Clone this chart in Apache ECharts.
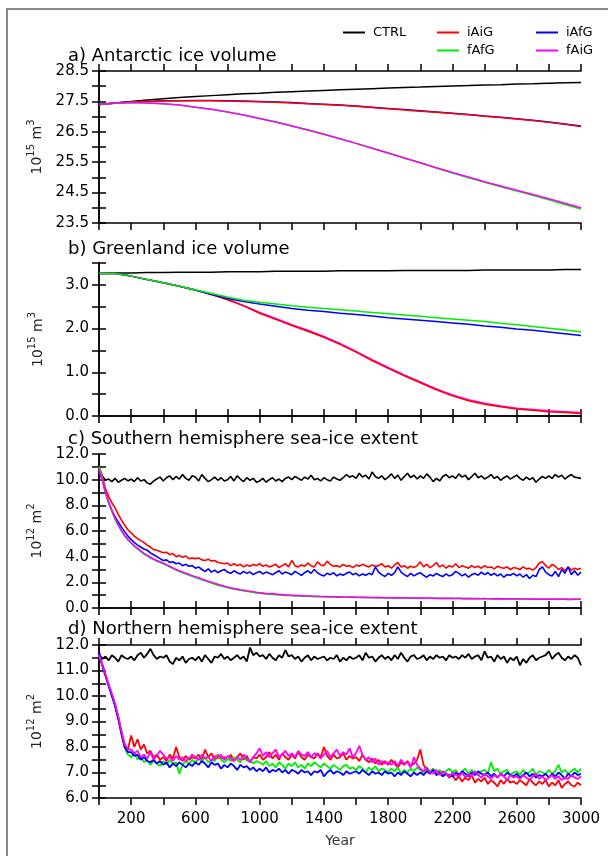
<!DOCTYPE html>
<html>
<head>
<meta charset="utf-8">
<title>ice volume and sea-ice extent</title>
<script src="https://cdn.jsdelivr.net/npm/echarts@6/dist/echarts.min.js"></script>
<style>
html, body { margin: 0; padding: 0; background: #fff; }
#main { width: 608px; height: 856px; }
</style>
</head>
<body>
<div id="main"></div>
<script>
// years
var years100 = [0,100,200,300,400,500,600,700,800,900,1000,1100,1200,1300,1400,1500,
    1600,1700,1800,1900,2000,2100,2200,2300,2400,2500,2600,2700,2800,2900,3000];
var years20 = [0,20,40,60,80,100,120,140,160,180,
    200,220,240,260,280,300,320,340,360,380,
    400,420,440,460,480,500,520,540,560,580,
    600,620,640,660,680,700,720,740,760,780,
    800,820,840,860,880,900,920,940,960,980,
    1000,1020,1040,1060,1080,1100,1120,1140,1160,1180,
    1200,1220,1240,1260,1280,1300,1320,1340,1360,1380,
    1400,1420,1440,1460,1480,1500,1520,1540,1560,1580,
    1600,1620,1640,1660,1680,1700,1720,1740,1760,1780,
    1800,1820,1840,1860,1880,1900,1920,1940,1960,1980,
    2000,2020,2040,2060,2080,2100,2120,2140,2160,2180,
    2200,2220,2240,2260,2280,2300,2320,2340,2360,2380,
    2400,2420,2440,2460,2480,2500,2520,2540,2560,2580,
    2600,2620,2640,2660,2680,2700,2720,2740,2760,2780,
    2800,2820,2840,2860,2880,2900,2920,2940,2960,2980,
    3000];

// a) Antarctic ice volume (10^15 m3)
var antCtrl = [27.40,27.45,27.50,27.55,27.59,27.63,27.66,27.69,27.72,27.75,27.77,27.80,27.82,27.84,27.86,
    27.88,27.90,27.92,27.94,27.96,27.97,27.99,28.01,28.02,28.04,28.05,28.07,28.08,28.10,28.11,28.12];
var antIAiG = [27.40,27.45,27.48,27.50,27.51,27.52,27.52,27.52,27.51,27.50,27.49,27.47,27.45,27.42,27.40,
    27.37,27.34,27.30,27.26,27.22,27.18,27.14,27.10,27.06,27.01,26.97,26.92,26.87,26.81,26.75,26.67];
var antIAfG = [27.40,27.45,27.48,27.50,27.52,27.52,27.53,27.53,27.52,27.51,27.50,27.48,27.46,27.43,27.41,
    27.38,27.35,27.31,27.27,27.23,27.19,27.15,27.11,27.07,27.02,26.98,26.93,26.88,26.82,26.76,26.69];
var antFAfG = [27.40,27.44,27.46,27.45,27.42,27.38,27.31,27.24,27.15,27.05,26.94,26.82,26.69,26.56,26.42,
    26.27,26.12,25.96,25.80,25.64,25.48,25.31,25.14,24.99,24.84,24.69,24.55,24.41,24.26,24.11,23.96];
var antFAiG = [27.40,27.44,27.46,27.45,27.42,27.38,27.31,27.24,27.15,27.05,26.94,26.82,26.69,26.56,26.42,
    26.27,26.12,25.96,25.80,25.64,25.48,25.32,25.16,25.01,24.86,24.72,24.58,24.44,24.30,24.15,24.00];

// b) Greenland ice volume (10^15 m3)
var grlCtrl = [3.26,3.27,3.27,3.28,3.28,3.29,3.29,3.29,3.30,3.30,3.30,3.31,3.31,3.31,3.31,
    3.32,3.32,3.32,3.32,3.33,3.33,3.33,3.33,3.33,3.34,3.34,3.34,3.34,3.34,3.35,3.35];
var grlIAiG = [3.26,3.26,3.20,3.12,3.05,2.97,2.88,2.78,2.66,2.52,2.35,2.21,2.07,1.94,1.80,
    1.64,1.46,1.27,1.09,0.92,0.76,0.60,0.46,0.35,0.27,0.21,0.16,0.13,0.10,0.08,0.06];
var grlIAfG = [3.26,3.26,3.20,3.12,3.05,2.97,2.88,2.78,2.69,2.62,2.56,2.51,2.46,2.42,2.39,
    2.35,2.32,2.29,2.25,2.22,2.19,2.16,2.13,2.10,2.06,2.03,1.99,1.96,1.92,1.88,1.84];
var grlFAfG = [3.26,3.26,3.20,3.12,3.05,2.97,2.89,2.80,2.72,2.65,2.60,2.56,2.52,2.49,2.46,
    2.43,2.40,2.37,2.34,2.31,2.28,2.25,2.22,2.19,2.16,2.12,2.09,2.05,2.01,1.97,1.93];
var grlFAiG = [3.26,3.26,3.20,3.12,3.05,2.97,2.88,2.79,2.67,2.53,2.37,2.23,2.09,1.96,1.82,
    1.66,1.48,1.29,1.11,0.94,0.78,0.62,0.48,0.37,0.29,0.23,0.18,0.15,0.12,0.10,0.08];

// c) Southern hemisphere sea-ice extent (10^12 m2)
var shCtrl = [10.9,10.3,9.95,10.05,9.85,10.1,9.8,9.95,10.1,9.9,
    10.05,9.85,10.15,9.9,10.0,9.75,9.65,9.9,10.05,10.2,
    9.9,10.15,10.3,10.0,10.25,10.05,10.4,10.1,9.95,10.3,
    10.2,9.9,10.4,10.1,9.85,10.0,10.2,9.95,10.15,9.9,
    10.0,10.25,9.9,10.3,10.05,9.85,10.15,9.95,10.1,9.8,
    9.9,10.1,9.8,10.0,10.15,9.9,10.05,9.85,10.1,10.2,
    10.0,10.25,10.1,9.95,10.2,10.05,10.35,10.0,10.1,9.9,
    10.15,10.0,9.9,10.2,10.05,9.95,10.15,10.4,10.2,10.3,
    10.1,10.5,10.2,10.35,10.05,10.6,10.25,10.1,10.3,10.0,
    10.2,10.45,10.1,10.35,9.95,10.25,10.5,10.15,10.35,10.05,
    10.3,10.1,10.45,10.2,9.85,10.1,9.9,10.25,10.4,10.15,
    10.3,10.1,10.45,10.2,10.35,10.0,10.25,10.5,10.15,10.3,
    10.05,10.2,10.4,10.1,10.25,9.95,10.15,10.3,10.05,10.2,
    10.35,10.1,9.95,10.2,10.0,10.15,9.8,10.05,10.25,10.1,
    10.3,10.1,10.4,10.2,10.35,10.05,10.25,10.4,10.2,10.15,
    10.1];
var shIAiG = [11.0,10.3,9.3,8.7,8.2,7.8,7.3,6.85,6.45,6.1,
    5.85,5.6,5.4,5.25,5.1,4.9,4.75,4.55,4.5,4.4,
    4.3,4.35,4.15,4.25,4.0,4.1,3.95,4.05,3.85,3.9,
    3.85,3.9,3.75,3.7,3.8,3.65,3.7,3.55,3.5,3.45,
    3.5,3.3,3.45,3.3,3.4,3.2,3.35,3.25,3.4,3.3,
    3.45,3.25,3.35,3.2,3.3,3.4,3.15,3.3,3.45,3.2,
    3.7,3.3,3.2,3.35,3.25,3.5,3.3,3.2,3.6,3.35,
    3.3,3.65,3.4,3.25,3.3,3.2,3.4,3.25,3.3,3.15,
    3.35,3.25,3.4,3.3,3.2,3.35,3.25,3.3,3.45,3.2,
    3.3,3.1,3.35,3.55,3.2,3.3,3.1,3.25,3.15,3.3,
    3.6,3.2,3.4,3.15,3.3,3.55,3.2,3.35,3.1,3.3,
    3.2,3.45,3.15,3.3,3.2,3.1,3.3,3.15,3.25,3.1,
    3.3,3.15,3.2,3.05,3.25,3.15,3.1,3.2,3.0,3.15,
    3.1,3.0,3.2,3.05,3.1,2.95,3.15,3.5,3.6,3.3,
    3.1,3.4,3.25,3.0,3.15,2.9,3.2,2.95,3.1,3.0,
    3.1];
var shIAfG = [10.7,10.0,9.0,8.2,7.6,7.1,6.7,6.3,5.95,5.6,
    5.35,5.1,4.9,4.75,4.6,4.5,4.3,4.15,4.0,3.85,
    3.7,3.75,3.55,3.6,3.45,3.5,3.3,3.4,3.25,3.3,
    3.1,3.2,3.0,2.85,3.05,2.8,2.95,2.75,2.9,3.0,
    2.8,2.7,2.9,2.75,2.65,2.85,2.7,2.8,2.6,2.75,
    2.85,2.65,2.8,2.7,2.6,2.75,2.9,2.65,2.8,2.7,
    2.6,2.85,2.7,2.55,2.75,2.9,2.7,3.0,2.75,2.6,
    2.5,2.7,2.6,2.75,2.5,2.65,2.55,2.7,2.8,2.6,
    2.7,2.5,2.65,2.55,2.7,2.6,3.2,2.8,2.6,2.45,
    2.7,2.55,2.75,3.2,2.8,2.6,2.45,2.7,2.5,2.65,
    2.75,2.55,2.4,2.6,2.5,2.7,2.55,2.45,2.65,2.5,
    2.6,2.85,2.7,2.5,2.65,2.4,2.6,2.7,2.55,2.8,
    2.6,2.75,2.55,2.7,2.5,2.65,2.4,2.6,2.55,2.7,
    2.5,2.65,2.4,2.6,2.3,2.55,2.45,3.0,3.2,2.8,
    2.6,2.5,2.85,2.45,3.0,2.7,3.2,2.6,2.9,2.55,
    2.8];
var shFAfG = [11.0,10.1,9.0,8.2,7.5,6.9,6.4,6.0,5.6,5.3,
    5.05,4.8,4.6,4.4,4.2,4.05,3.9,3.78,3.65,3.55,
    3.45,3.32,3.2,3.08,2.95,2.85,2.75,2.65,2.55,2.48,
    2.38,2.3,2.2,2.12,2.02,1.94,1.86,1.78,1.72,1.64,
    1.58,1.53,1.47,1.42,1.38,1.33,1.3,1.25,1.22,1.18,
    1.15,1.12,1.1,1.07,1.05,1.04,1.01,1.0,0.98,0.97,
    0.96,0.94,0.95,0.92,0.91,0.92,0.9,0.89,0.9,0.88,
    0.87,0.88,0.86,0.87,0.85,0.86,0.84,0.85,0.84,0.83,
    0.84,0.82,0.83,0.82,0.81,0.82,0.8,0.81,0.8,0.79,
    0.8,0.79,0.8,0.78,0.79,0.78,0.79,0.77,0.78,0.77,
    0.78,0.76,0.77,0.76,0.77,0.75,0.76,0.75,0.76,0.74,
    0.75,0.74,0.75,0.73,0.74,0.73,0.74,0.72,0.73,0.72,
    0.73,0.72,0.71,0.72,0.71,0.72,0.7,0.71,0.7,0.71,
    0.7,0.71,0.69,0.7,0.69,0.7,0.68,0.69,0.7,0.68,
    0.69,0.68,0.69,0.67,0.68,0.69,0.67,0.68,0.67,0.68,
    0.68];
var shFAiG = [10.8,10.0,9.1,8.3,7.6,7.0,6.5,6.05,5.65,5.35,
    5.1,4.85,4.65,4.45,4.25,4.1,3.95,3.82,3.7,3.6,
    3.5,3.38,3.25,3.12,3.0,2.9,2.8,2.7,2.62,2.52,
    2.44,2.35,2.26,2.17,2.08,2.0,1.92,1.84,1.77,1.7,
    1.63,1.57,1.52,1.47,1.42,1.38,1.34,1.3,1.26,1.22,
    1.19,1.16,1.13,1.11,1.12,1.08,1.06,1.04,1.02,1.01,
    0.99,0.98,0.97,0.96,0.95,0.94,0.93,0.92,0.91,0.9,
    0.9,0.89,0.88,0.88,0.87,0.87,0.86,0.86,0.85,0.85,
    0.84,0.84,0.83,0.83,0.82,0.82,0.81,0.81,0.8,0.8,
    0.8,0.79,0.8,0.79,0.79,0.78,0.79,0.78,0.78,0.77,
    0.77,0.77,0.76,0.78,0.76,0.76,0.75,0.76,0.75,0.75,
    0.75,0.74,0.75,0.74,0.73,0.74,0.73,0.73,0.74,0.72,
    0.73,0.72,0.72,0.71,0.73,0.71,0.72,0.71,0.7,0.71,
    0.7,0.71,0.7,0.7,0.69,0.7,0.69,0.7,0.68,0.69,
    0.69,0.7,0.68,0.69,0.68,0.69,0.67,0.68,0.69,0.68,
    0.7];

// d) Northern hemisphere sea-ice extent (10^12 m2)
var nhCtrl = [11.65,11.45,11.55,11.4,11.6,11.5,11.35,11.6,11.5,11.45,
    11.55,11.4,11.6,11.7,11.5,11.65,11.85,11.6,11.45,11.55,
    11.5,11.6,11.35,11.25,11.5,11.4,11.55,11.3,11.45,11.5,
    11.4,11.55,11.35,11.6,11.45,11.3,11.55,11.5,11.65,11.45,
    11.55,11.4,11.5,11.6,11.45,11.55,11.35,11.9,11.6,11.7,
    11.55,11.6,11.45,11.65,11.5,11.4,11.6,11.5,11.8,11.55,
    11.6,11.45,11.55,11.35,11.5,11.6,11.4,11.55,11.45,11.5,
    11.55,11.4,11.5,11.45,11.6,11.35,11.5,11.4,11.55,11.45,
    11.5,11.6,11.4,11.7,11.5,11.55,11.35,11.5,11.6,11.45,
    11.55,11.4,11.6,11.45,11.7,11.5,11.35,11.55,11.6,11.45,
    11.5,11.6,11.4,11.55,11.45,11.6,11.5,11.55,11.4,11.6,
    11.5,11.55,11.45,11.6,11.5,11.65,11.45,11.55,11.6,11.4,
    11.75,11.5,11.55,11.35,11.6,11.45,11.55,11.3,11.5,11.4,
    11.55,11.2,11.45,11.3,11.5,11.6,11.4,11.5,11.55,11.6,
    11.75,11.45,11.6,11.7,11.5,11.4,11.55,11.45,11.6,11.5,
    11.2];
var nhIAiG = [11.7,11.25,10.85,10.45,10.05,9.65,9.15,8.6,8.1,7.9,
    8.45,8.0,8.3,7.9,8.1,7.75,7.85,7.6,7.7,7.5,
    7.6,7.45,7.7,7.55,8.0,7.6,7.45,7.65,7.5,7.6,
    7.55,7.7,7.5,7.9,7.6,7.75,7.5,7.7,7.55,7.6,
    7.5,7.7,7.45,7.6,7.75,7.5,7.65,7.4,7.6,7.55,
    7.7,7.5,7.6,7.8,7.55,7.7,7.5,7.75,7.6,7.5,
    7.7,7.55,7.8,7.6,7.5,7.7,7.6,7.55,7.75,7.6,
    8.0,7.65,7.5,7.7,7.55,7.6,7.75,7.5,7.65,7.55,
    7.6,7.45,7.7,7.5,7.4,7.55,7.35,7.5,7.3,7.45,
    7.3,7.5,7.35,7.2,7.4,7.3,7.45,7.25,7.35,7.5,
    7.9,7.3,7.1,7.0,7.15,6.9,7.05,6.85,6.95,6.8,
    6.9,6.7,6.85,6.65,6.8,6.7,6.9,6.6,6.75,6.65,
    6.8,6.55,6.7,6.6,6.45,6.7,6.55,6.75,6.6,6.65,
    6.55,6.7,6.6,6.5,6.75,6.6,6.5,6.65,6.55,6.7,
    6.45,6.6,6.5,6.7,6.4,6.55,6.65,6.5,6.45,6.6,
    6.5];
var nhIAfG = [11.75,11.2,10.8,10.4,10.0,9.6,9.1,8.5,8.0,7.8,
    7.8,7.65,7.7,7.5,7.6,7.45,7.4,7.5,7.35,7.45,
    7.3,7.4,7.2,7.35,7.25,7.4,7.3,7.2,7.35,7.25,
    7.4,7.3,7.45,7.35,7.2,7.4,7.3,7.35,7.15,7.3,
    7.2,7.35,7.25,7.1,7.3,7.2,7.25,7.1,7.2,7.05,
    7.15,7.05,7.2,7.0,7.1,7.05,7.15,7.0,7.1,6.95,
    7.1,7.05,6.95,7.1,7.0,7.05,6.9,7.05,7.0,7.1,
    6.85,7.0,7.1,6.95,7.05,7.0,6.9,7.05,6.95,7.0,
    7.05,6.95,7.1,7.0,6.9,7.05,6.95,7.0,6.9,7.05,
    6.95,7.0,6.85,7.0,6.9,7.05,6.95,6.85,7.0,6.9,
    7.0,6.9,7.05,6.95,7.1,6.9,7.0,6.85,6.95,6.9,
    6.85,7.0,6.9,7.05,6.95,6.85,7.0,6.9,7.05,6.95,
    6.9,7.0,6.85,6.95,6.8,6.95,6.85,7.0,6.9,6.85,
    6.95,6.8,6.9,7.0,6.85,6.95,6.8,6.9,6.85,6.95,
    6.8,6.95,6.85,7.0,6.9,6.75,6.95,6.85,7.0,6.9,
    6.95];
var nhFAfG = [11.6,11.2,10.8,10.4,10.05,9.65,9.2,8.5,7.95,7.7,
    7.6,7.8,7.5,7.65,7.4,7.5,7.3,7.45,7.35,7.25,
    7.45,7.3,7.5,7.35,7.4,6.95,7.3,7.45,7.35,7.5,
    7.4,7.55,7.45,7.6,7.4,7.5,7.45,7.65,7.5,7.4,
    7.55,7.45,7.6,7.5,7.4,7.7,7.45,7.5,7.35,7.45,
    7.4,7.3,7.45,7.25,7.35,7.2,7.4,7.3,7.15,7.35,
    7.25,7.4,7.2,7.3,7.15,7.35,7.25,7.4,7.3,7.2,
    7.35,7.25,7.15,7.3,7.2,7.1,7.25,7.3,7.15,7.2,
    7.1,7.25,7.15,7.0,7.2,7.1,7.25,7.05,7.15,7.1,
    7.0,7.15,7.05,7.2,6.95,7.1,7.0,7.15,7.05,7.2,
    7.1,7.0,7.2,7.05,7.15,7.0,7.1,6.95,7.05,7.15,
    7.0,7.1,6.9,7.05,7.15,6.95,7.1,7.0,6.9,7.05,
    7.1,6.95,7.4,7.05,7.15,6.95,7.05,7.1,6.9,7.0,
    7.05,6.9,7.1,6.95,7.0,7.15,6.9,7.05,7.0,6.95,
    7.1,6.95,7.05,7.3,7.0,7.1,6.95,7.05,7.15,7.0,
    7.15];
var nhFAiG = [11.6,11.25,10.85,10.45,10.1,9.7,9.2,8.6,8.1,7.9,
    7.9,7.75,7.85,7.6,7.7,7.55,7.8,7.5,7.65,7.85,
    7.7,7.55,7.6,7.45,7.65,7.5,7.6,7.45,7.55,7.7,
    7.6,7.5,7.7,7.55,7.6,7.45,7.65,7.55,7.7,7.5,
    7.65,7.55,7.45,7.6,7.5,7.7,7.55,7.4,7.6,7.75,
    7.95,7.65,7.8,7.6,7.75,7.9,7.6,7.7,7.85,7.65,
    7.75,7.6,7.85,7.7,7.65,7.8,7.6,7.75,7.7,7.55,
    7.7,7.85,7.6,7.75,7.9,7.65,7.8,7.7,7.95,7.6,
    7.75,8.05,7.7,7.5,7.6,7.4,7.55,7.3,7.45,7.35,
    7.4,7.3,7.45,7.25,7.5,7.35,7.4,7.2,7.6,7.3,
    7.15,7.05,7.2,7.0,6.95,7.1,6.9,7.05,6.95,6.85,
    7.0,6.9,6.85,7.0,6.8,6.95,6.85,7.05,6.9,6.8,
    6.95,6.85,6.75,6.9,6.8,6.95,6.85,6.7,6.9,6.8,
    6.85,6.75,6.9,6.8,6.7,6.85,6.95,6.75,6.85,6.7,
    6.8,6.9,6.75,6.85,6.7,6.8,6.75,6.9,6.8,6.75,
    6.85];

var colors = { CTRL: '#000000', iAiG: '#ff0000', iAfG: '#0000ff', fAfG: '#00ee00', fAiG: '#ff00ff' };
var font = 'DejaVu Sans';

// panel layout
var panels = [
    { title: 'a) Antarctic ice volume', titleTop: 47, top: 71, height: 152,
      min: 23.5, max: 28.5, step: 0.5, labelBase: 23.5, labelStep: 1, pow: '15', unit: '3',
      years: years100, width: 1.5,
      lines: [['CTRL', antCtrl], ['iAfG', antIAfG], ['iAiG', antIAiG], ['fAfG', antFAfG], ['fAiG', antFAiG]] },
    { title: 'b) Greenland ice volume', titleTop: 240, top: 263, height: 153,
      min: 0, max: 3.5, step: 0.5, labelBase: 0, labelStep: 1, pow: '15', unit: '3',
      years: years100, width: 1.5,
      lines: [['CTRL', grlCtrl], ['fAiG', grlFAiG], ['iAiG', grlIAiG], ['iAfG', grlIAfG], ['fAfG', grlFAfG]] },
    { title: 'c) Southern hemisphere sea-ice extent', titleTop: 430, top: 454, height: 154,
      min: 0, max: 12, step: 1, labelBase: 0, labelStep: 2, pow: '12', unit: '2',
      years: years20, width: 1.6,
      lines: [['CTRL', shCtrl], ['iAiG', shIAiG], ['iAfG', shIAfG], ['fAfG', shFAfG], ['fAiG', shFAiG]] },
    { title: 'd) Northern hemisphere sea-ice extent', titleTop: 620, top: 645, height: 153,
      min: 6, max: 12, step: 0.5, labelBase: 6, labelStep: 1, pow: '12', unit: '2',
      years: years20, width: 1.8,
      lines: [['CTRL', nhCtrl], ['iAiG', nhIAiG], ['fAfG', nhFAfG], ['iAfG', nhIAfG], ['fAiG', nhFAiG]] }
];

var axisLine = { lineStyle: { color: '#000', width: 1.5 } };
var axisTick = { inside: false, length: 7, lineStyle: { color: '#000', width: 1.5 } };

var grids = [], xAxes = [], yAxes = [], titles = [], series = [];

panels.forEach(function (p, i) {
    var last = i === panels.length - 1;
    grids.push({ left: 99, right: 27, top: p.top, height: p.height });
    titles.push({ text: p.title, left: 68, top: p.titleTop, padding: 0,
        textStyle: { fontFamily: font, fontSize: 18, fontWeight: 'normal', color: '#000' } });

    // bottom and top x axes
    xAxes.push({
        type: 'value', gridIndex: i, min: 0, max: 3000, interval: 200,
        axisLine: axisLine, axisTick: axisTick, splitLine: { show: false },
        axisLabel: {
            show: last, margin: 14, color: '#000', fontFamily: font, fontSize: 15,
            formatter: function (v) { return (v > 0 && (v - 200) % 400 === 0) ? String(v) : ''; }
        },
        name: last ? 'Year' : '', nameLocation: 'middle', nameGap: 36,
        nameTextStyle: { fontFamily: font, fontSize: 14, color: '#333' }
    });
    xAxes.push({
        type: 'value', gridIndex: i, position: 'top', min: 0, max: 3000, interval: 200,
        axisLine: axisLine, axisTick: axisTick, splitLine: { show: false }, axisLabel: { show: false }
    });

    // left and right y axes
    yAxes.push({
        type: 'value', gridIndex: i, min: p.min, max: p.max, interval: p.step,
        axisLine: { show: true, lineStyle: axisLine.lineStyle }, axisTick: axisTick, splitLine: { show: false },
        axisLabel: {
            margin: 10, color: '#000', fontFamily: font, fontSize: 15,
            formatter: function (v) {
                var k = (v - p.labelBase) / p.labelStep;
                return Math.abs(k - Math.round(k)) < 1e-6 ? v.toFixed(1) : '';
            }
        },
        name: '{n|10}{s|' + p.pow + '}{n| m}{s|' + p.unit + '}',
        nameLocation: 'middle', nameGap: 54,
        nameTextStyle: {
            fontFamily: font, color: '#222',
            rich: {
                n: { fontFamily: font, fontSize: 14, color: '#222', lineHeight: 18, verticalAlign: 'bottom' },
                s: { fontFamily: font, fontSize: 10, color: '#222', verticalAlign: 'top' }
            }
        }
    });
    yAxes.push({
        type: 'value', gridIndex: i, position: 'right', min: p.min, max: p.max, interval: p.step,
        axisLine: { show: true, lineStyle: axisLine.lineStyle }, axisTick: axisTick,
        splitLine: { show: false }, axisLabel: { show: false }
    });

    p.lines.forEach(function (l) {
        series.push({
            name: l[0], type: 'line', xAxisIndex: 2 * i, yAxisIndex: 2 * i,
            showSymbol: false, symbol: 'none', animation: false,
            lineStyle: { color: colors[l[0]], width: p.width },
            itemStyle: { color: colors[l[0]] },
            data: p.years.map(function (y, j) { return [y, l[1][j]]; })
        });
    });
});

var legendBase = {
    icon: 'rect', itemWidth: 22, itemHeight: 2, itemGap: 5, top: 21,
    textStyle: { fontFamily: font, fontSize: 13, color: '#000', padding: [0, 0, 0, 3] }
};

var myChart = echarts.init(document.getElementById('main'), null, { renderer: 'canvas' });
var option = {
    backgroundColor: '#fff',
    animation: false,
    title: titles,
    legend: [
        Object.assign({}, legendBase, { data: ['CTRL'], left: 338 }),
        Object.assign({}, legendBase, { data: ['iAiG', 'fAfG'], orient: 'vertical', left: 432 }),
        Object.assign({}, legendBase, { data: ['iAfG', 'fAiG'], orient: 'vertical', left: 531 })
    ],
    grid: grids,
    xAxis: xAxes,
    yAxis: yAxes,
    series: series,
    // grey frame round the figure
    graphic: [{
        type: 'polyline', silent: true,
        shape: { points: [[7, 856], [7, 9], [608, 9]] },
        style: { stroke: '#888', lineWidth: 2, fill: null }
    }]
};
myChart.setOption(option);
</script>
</body>
</html>
